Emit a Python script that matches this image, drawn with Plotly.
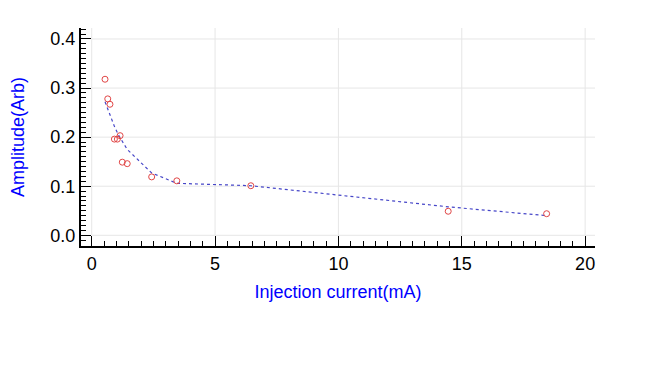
import plotly.graph_objects as go

# measured points (red circles)
current = [0.54, 0.65, 0.74, 0.92, 1.04, 1.15, 1.24, 1.44, 2.43, 3.45, 6.45, 14.45, 18.44]
amplitude = [0.318, 0.278, 0.267, 0.196, 0.196, 0.203, 0.149, 0.146, 0.119, 0.111, 0.101, 0.049, 0.044]

# fitted curve (blue dotted line)
fit_x = [0.54, 0.74, 0.92, 1.10, 1.44, 2.43, 3.45, 6.45, 14.45, 18.44]
fit_y = [0.272, 0.245, 0.222, 0.203, 0.175, 0.127, 0.106, 0.101, 0.058, 0.040]

x_ticks = [0, 5, 10, 15, 20]
y_ticks = [0.0, 0.1, 0.2, 0.3, 0.4]

fig = go.Figure()

fig.add_trace(go.Scatter(x=fit_x, y=fit_y,
                    mode='lines',
                    line=dict(color='rgb(70,70,200)', width=1.2, dash='dot'),
                    showlegend=False
                    ))
fig.add_trace(go.Scatter(x=current, y=amplitude,
                    mode='markers',
                    marker=dict(symbol='circle-open', size=6, color='rgb(225,70,70)',
                                line=dict(width=1)),
                    showlegend=False
                    ))

# grid only covers the positive quadrant, like the original
grid = dict(color='rgb(230,230,230)', width=1)
for xv in x_ticks:
    fig.add_shape(type='line', xref='x', yref='paper', x0=xv, x1=xv,
                  y0=0.049, y1=1, line=grid, layer='below')
for yv in y_ticks:
    fig.add_shape(type='line', xref='paper', yref='y', x0=0.021, x1=1,
                  y0=yv, y1=yv, line=grid, layer='below')

# page body adds an 8px offset, so margins are trimmed by that much
fig.update_layout(
    width=664, height=379,
    margin=dict(l=73, r=77, t=20, b=141),
    paper_bgcolor='white', plot_bgcolor='white',
    font=dict(family='Liberation Sans, Arial', size=18, color='black'),
)

fig.update_xaxes(
    automargin=False,
    range=[-0.434, 20.4],
    tickvals=x_ticks,
    showline=True, linecolor='black', linewidth=2,
    ticks='inside', ticklen=10, tickwidth=1, tickcolor='black',
    minor=dict(dtick=0.5, ticks='inside', ticklen=5, tickcolor='black', showgrid=False),
    showgrid=False,
    zeroline=False,
    title=dict(text='Injection current(mA)', font=dict(color='blue', size=18), standoff=13),
)
fig.update_yaxes(
    automargin=False,
    range=[-0.0218, 0.4224],
    tickvals=y_ticks,
    tickformat='.1f',
    showline=True, linecolor='black', linewidth=2,
    ticks='inside', ticklen=10, tickwidth=1, tickcolor='black',
    minor=dict(dtick=0.01, ticks='inside', ticklen=5, tickcolor='black', showgrid=False),
    showgrid=False,
    zeroline=False,
    title=dict(text='Amplitude(Arb)', font=dict(color='blue', size=18), standoff=22),
)

fig.write_html("out.html")
